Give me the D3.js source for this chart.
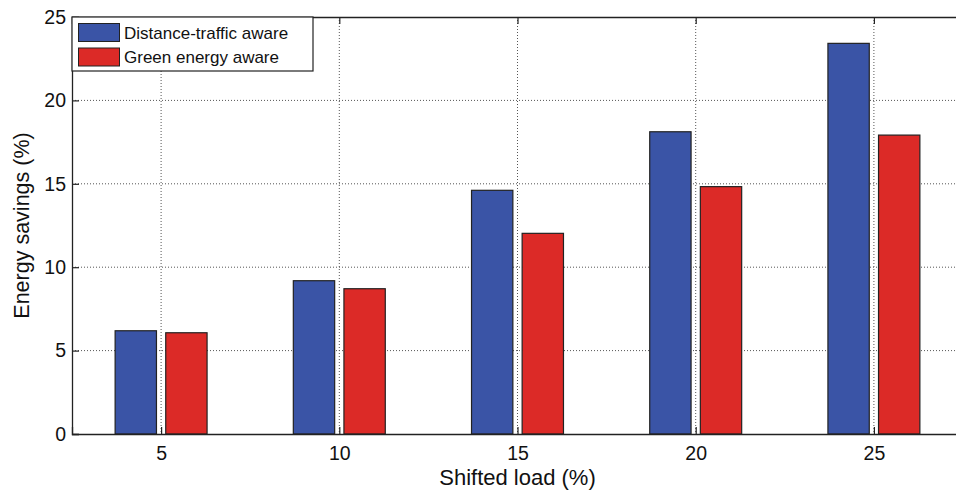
<!DOCTYPE html>
<html>
<head>
<meta charset="utf-8">
<script src="https://cdn.jsdelivr.net/npm/d3@7"></script>
<style>
  body { margin: 0; background: #fff; }
  svg { display: block; font-family: "Liberation Sans", Arial, sans-serif; }
</style>
</head>
<body>
<script>
// chart data
var categories = [5, 10, 15, 20, 25];
var distanceTraffic = [6.19, 9.19, 14.61, 18.12, 23.42];
var greenEnergy = [6.07, 8.71, 12.03, 14.83, 17.92];
var seriesNames = ['Distance-traffic aware', 'Green energy aware'];
var yTicks = [0, 5, 10, 15, 20, 25];

var width = 956, height = 493;
var margin = { left: 72, top: 17, right: -7, bottom: 59 };
var plotW = width - margin.left - margin.right;
var plotH = height - margin.top - margin.bottom;
var colors = ['#3a54a6', '#dc2a27'];

var svg = d3.select('body').append('svg').attr('width', width).attr('height', height);
var g = svg.append('g').attr('transform', 'translate(' + margin.left + ',' + margin.top + ')');

var x = d3.scaleLinear().domain([2.5, 27.5]).range([0, plotW]);
var y = d3.scaleLinear().domain([0, 25]).range([plotH, 0]);
var barW = x(1.16) - x(0);
var offsets = [-0.71, 0.71];

// grid lines (dotted)
g.append('g').selectAll('line').data(categories).enter().append('line')
    .attr('x1', function(d) { return x(d); }).attr('x2', function(d) { return x(d); })
    .attr('y1', 0).attr('y2', plotH)
    .attr('stroke', '#555').attr('stroke-width', 1).attr('stroke-dasharray', '1,2');
g.append('g').selectAll('line').data(yTicks.slice(1, -1)).enter().append('line')
    .attr('x1', 0).attr('x2', plotW)
    .attr('y1', function(d) { return y(d); }).attr('y2', function(d) { return y(d); })
    .attr('stroke', '#555').attr('stroke-width', 1).attr('stroke-dasharray', '1,2');

// bars
[distanceTraffic, greenEnergy].forEach(function(vals, s) {
    g.append('g').selectAll('rect').data(vals).enter().append('rect')
        .attr('x', function(d, i) { return x(categories[i] + offsets[s]) - barW / 2; })
        .attr('y', function(d) { return y(d); })
        .attr('width', barW)
        .attr('height', function(d) { return plotH - y(d); })
        .attr('fill', colors[s])
        .attr('stroke', '#222').attr('stroke-width', 1.2);
});

// axes, matlab style ticks pointing in
var xAxis = d3.axisBottom(x).tickValues(categories).tickSize(-7).tickPadding(12);
var yAxis = d3.axisLeft(y).tickValues(yTicks).tickSize(-7).tickPadding(6);
var gx = g.append('g').attr('transform', 'translate(0,' + plotH + ')').call(xAxis);
var gy = g.append('g').call(yAxis);
var gxTop = g.append('g').call(d3.axisTop(x).tickValues(categories).tickSize(-7).tickFormat(''));
var gyRight = g.append('g').attr('transform', 'translate(' + plotW + ',0)')
    .call(d3.axisRight(y).tickValues(yTicks).tickSize(-7).tickFormat(''));
[gx, gy, gxTop, gyRight].forEach(function(a) {
    a.select('.domain').attr('stroke', '#222').attr('stroke-width', 1.3);
    a.selectAll('.tick line').attr('stroke', '#222').attr('stroke-width', 1.2);
    a.selectAll('text').attr('font-size', 19.5).attr('fill', '#111')
        .attr('font-family', '"Liberation Sans", Arial, sans-serif');
});

// axis titles
svg.append('text').attr('x', margin.left + x(15)).attr('y', 485)
    .attr('text-anchor', 'middle').attr('font-size', 22).attr('fill', '#111')
    .text('Shifted load (%)');
svg.append('text').attr('transform', 'translate(29,' + (margin.top + plotH / 2) + ') rotate(-90)')
    .attr('text-anchor', 'middle').attr('font-size', 21.5).attr('fill', '#111')
    .text('Energy savings (%)');

// legend
var legend = g.append('g');
legend.append('rect').attr('x', 0).attr('y', 0).attr('width', 241).attr('height', 54)
    .attr('fill', '#fff').attr('stroke', '#222').attr('stroke-width', 1.2);
seriesNames.forEach(function(name, i) {
    legend.append('rect').attr('x', 6.5).attr('y', 6.5 + i * 24.5).attr('width', 41).attr('height', 18)
        .attr('fill', colors[i]).attr('stroke', '#222').attr('stroke-width', 1);
    legend.append('text').attr('x', 52).attr('y', 21.5 + i * 24.5)
        .attr('font-size', 17).attr('fill', '#111').text(name);
});
</script>
</body>
</html>
